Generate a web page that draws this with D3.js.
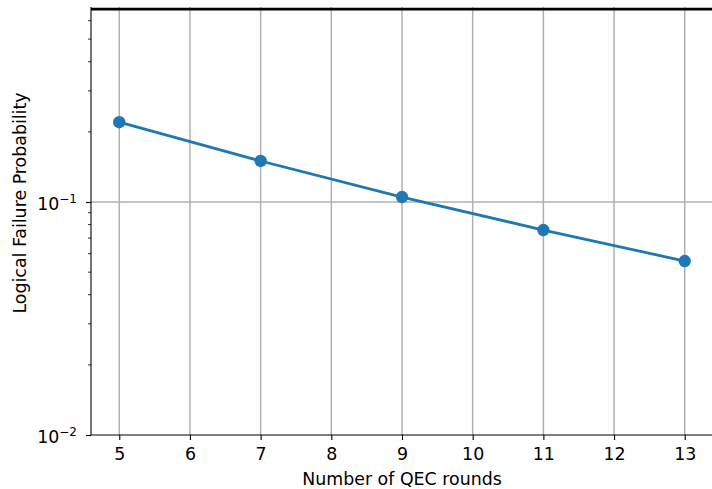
<!DOCTYPE html>
<html>
<head>
<meta charset="utf-8">
<script src="https://cdn.jsdelivr.net/npm/d3@7"></script>
<style>
  body { margin: 0; background: #fff; }
  text { font-family: "DejaVu Sans", sans-serif; fill: #000; }
</style>
</head>
<body>
<svg width="712" height="489"></svg>
<script>
// data
const rounds = [5, 7, 9, 11, 13];
const failProb = [0.220, 0.150, 0.105, 0.0758, 0.0558];
const xTicks = [5, 6, 7, 8, 9, 10, 11, 12, 13];
const yMajor = [0.01, 0.1];
const yMinor = [0.02, 0.03, 0.04, 0.05, 0.06, 0.07, 0.08, 0.09, 0.2, 0.3, 0.4, 0.5, 0.6];
const topLine = [0.673];

var svg = d3.select("svg"),
    margin = {top: 7, left: 91, bottom: 54, right: -1},
    width = +svg.attr("width"),
    height = +svg.attr("height");

var fs = "17.4px";

var x = d3.scaleLinear().domain([4.6, 13.4]).range([margin.left, width - margin.right]);
var y = d3.scaleLog().domain([0.01, 0.687]).range([height - margin.bottom, margin.top]);

var g = svg.append("g");

// grid
g.append("g").selectAll("line")
    .data(xTicks).enter().append("line")
    .attr("x1", d => x(d)).attr("x2", d => x(d))
    .attr("y1", y.range()[0]).attr("y2", y.range()[1])
    .attr("stroke", "#b0b0b0").attr("stroke-width", 1.5);
g.append("g").selectAll("line")
    .data([0.1]).enter().append("line")
    .attr("x1", x.range()[0]).attr("x2", x.range()[1])
    .attr("y1", d => y(d)).attr("y2", d => y(d))
    .attr("stroke", "#b0b0b0").attr("stroke-width", 1.5);

// the black line across the top
g.append("g").selectAll("line")
    .data(topLine).enter().append("line")
    .attr("x1", x.range()[0]).attr("x2", x.range()[1])
    .attr("y1", d => y(d)).attr("y2", d => y(d))
    .attr("stroke", "#000").attr("stroke-width", 2.8);

// x axis
var xAxis = d3.axisBottom(x).tickValues(xTicks).tickSize(5).tickPadding(8).tickFormat(d3.format("d"));
var xg = g.append("g").attr("transform", "translate(0," + y.range()[0] + ")").call(xAxis);
xg.select(".domain").attr("stroke-width", 1.1).attr("d", "M" + x.range()[0] + ",0H" + x.range()[1]);
xg.selectAll(".tick line").attr("stroke-width", 1.1);
xg.selectAll("text").style("font-size", fs).attr("fill", "#000");

// y axis
var yAxis = d3.axisLeft(y).tickValues(yMajor).tickSize(5).tickFormat("");
var yg = g.append("g").attr("transform", "translate(" + x.range()[0] + ",0)").call(yAxis);
yg.select(".domain").attr("stroke-width", 1.1).attr("d", "M0," + y.range()[0] + "V" + y.range()[1]);
yg.selectAll(".tick line").attr("stroke-width", 1.1);
yg.append("g").selectAll("line")
    .data(yMinor).enter().append("line")
    .attr("x1", -3).attr("x2", 0)
    .attr("y1", d => y(d)).attr("y2", d => y(d))
    .attr("stroke", "#000").attr("stroke-width", 0.8);

var ylab = yg.append("g").selectAll("text")
    .data(yMajor).enter().append("text")
    .attr("x", -14)
    .attr("y", d => y(d) + 8)
    .attr("text-anchor", "end")
    .style("font-size", fs);
ylab.append("tspan").text("10");
ylab.append("tspan")
    .attr("dy", -7)
    .style("font-size", "12px")
    .text(d => "\u2212" + Math.round(-Math.log10(d)));

// series
g.append("path")
    .datum(rounds.map((r, i) => [r, failProb[i]]))
    .attr("fill", "none")
    .attr("stroke", "#1f77b4")
    .attr("stroke-width", 2.8)
    .attr("d", d3.line().x(d => x(d[0])).y(d => y(d[1])));

g.append("g").selectAll("circle")
    .data(rounds).enter().append("circle")
    .attr("cx", d => x(d))
    .attr("cy", (d, i) => y(failProb[i]))
    .attr("r", 6.2)
    .attr("fill", "#1f77b4");

// labels
svg.append("text")
    .attr("x", (x.range()[0] + x.range()[1]) / 2)
    .attr("y", 485)
    .attr("text-anchor", "middle")
    .style("font-size", fs)
    .text("Number of QEC rounds");

svg.append("text")
    .attr("transform", "translate(26,203) rotate(-90)")
    .attr("text-anchor", "middle")
    .style("font-size", fs)
    .text("Logical Failure Probability");
</script>
</body>
</html>
